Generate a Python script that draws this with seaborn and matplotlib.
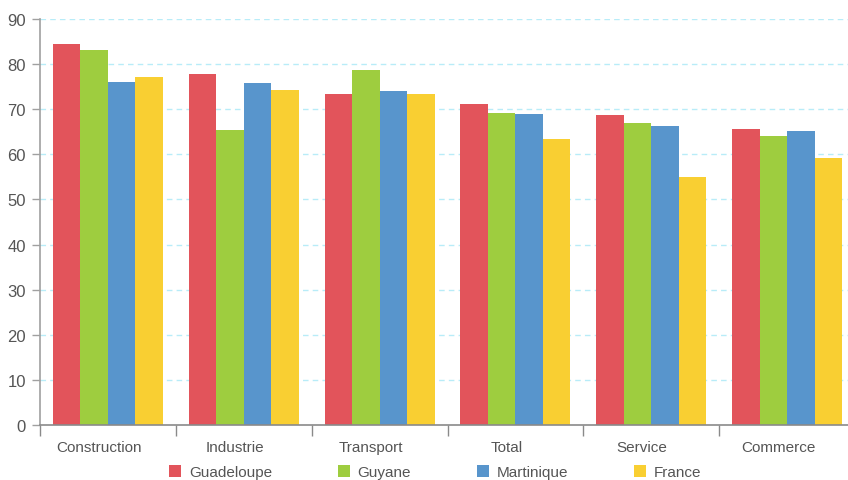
import matplotlib
matplotlib.use("Agg")
import matplotlib.pyplot as plt
from matplotlib.patches import Patch
from matplotlib.ticker import FixedLocator
import matplotlib.transforms as mtransforms
import seaborn as sns
import pandas as pd

categories = ["Construction", "Industrie", "Transport", "Total", "Service", "Commerce"]
series = ["Guadeloupe", "Guyane", "Martinique", "France"]
guadeloupe = [84.5, 77.8, 73.4, 71.2, 68.7, 65.6]
guyane = [83.1, 65.4, 78.7, 69.2, 66.9, 64.1]
martinique = [76.0, 75.8, 74.0, 68.9, 66.3, 65.2]
france = [77.1, 74.3, 73.4, 63.4, 55.0, 59.2]
colors = ["#e2545b", "#9ecd3f", "#5895cc", "#f9cf32"]
yticks = [0, 10, 20, 30, 40, 50, 60, 70, 80, 90]

rows = []
for name, vals in zip(series, [guadeloupe, guyane, martinique, france]):
    for c, v in zip(categories, vals):
        rows.append({"Secteur": c, "Zone": name, "Valeur": v})
df = pd.DataFrame(rows)

sns.set_theme(style="white")
plt.rcParams["font.family"] = ["Liberation Sans", "DejaVu Sans"]
text_color = "#555555"

fig = plt.figure(figsize=(8.48, 4.81), dpi=100)
ax = fig.add_axes([40 / 848, 55 / 481, 815 / 848, 406 / 481])

sns.barplot(data=df, x="Secteur", y="Valeur", hue="Zone", order=categories,
            hue_order=series, palette=colors, width=0.81, gap=0,
            saturation=1, ax=ax, legend=False, linewidth=0)

ax.set_xlim(-0.5, len(categories) - 0.5)
ax.set_ylim(0, 90)
ax.set_yticks(yticks)
ax.set_yticklabels([str(t) for t in yticks])
ax.set_xlabel("")
ax.set_ylabel("")

for t in yticks[1:]:
    ax.axhline(t, color="#b8ecf8", linestyle=(0, (4, 3)), linewidth=1, zorder=0)

for s in ["top", "right"]:
    ax.spines[s].set_visible(False)
ax.spines["left"].set_color("#a0a0a0")
ax.spines["left"].set_linewidth(1.2)
ax.spines["bottom"].set_color("#8a8a8a")
ax.spines["bottom"].set_linewidth(1.2)
ax.spines["bottom"].set_linestyle((0, (2, 1)))

ax.tick_params(axis="y", length=6, width=1, color="#a0a0a0", labelsize=12,
               labelcolor=text_color, pad=4, left=True)
ax.tick_params(axis="x", which="major", length=0, labelsize=11,
               labelcolor=text_color, pad=11)
ax.xaxis.set_minor_locator(FixedLocator([i - 0.5 for i in range(len(categories) + 1)]))
ax.tick_params(axis="x", which="minor", length=8, width=1, color="#8a8a8a", bottom=True)

offset = mtransforms.ScaledTranslation(-9 / 100, 0, fig.dpi_scale_trans)
for lbl in ax.get_xticklabels():
    lbl.set_transform(lbl.get_transform() + offset)

handles = [Patch(facecolor=c, edgecolor="none", label=s) for c, s in zip(colors, series)]
fig.legend(handles=handles, loc="center", bbox_to_anchor=(435 / 848, 1 - 473 / 481),
           ncol=4, frameon=False, fontsize=11, handlelength=0.8, handleheight=0.8,
           handletextpad=0.5, columnspacing=4.3, labelcolor=text_color,
           borderaxespad=0, borderpad=0)

fig.savefig("out.png", dpi=100)
